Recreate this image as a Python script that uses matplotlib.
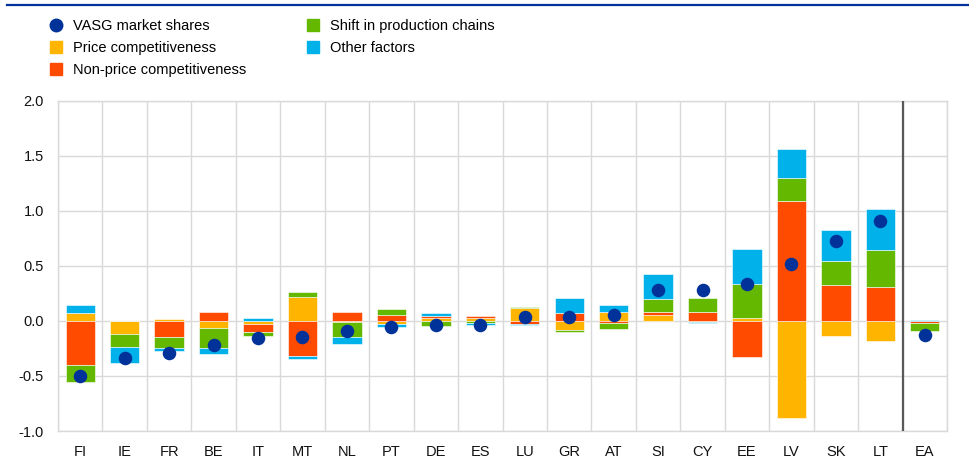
import numpy as np
import matplotlib
matplotlib.use("Agg")
import matplotlib.pyplot as plt
from matplotlib.lines import Line2D

plt.rcParams["font.family"] = ["Liberation Sans", "DejaVu Sans"]

# Data
countries = ["FI", "IE", "FR", "BE", "IT", "MT", "NL", "PT", "DE", "ES",
             "LU", "GR", "AT", "SI", "CY", "EE", "LV", "SK", "LT", "EA"]
price = [0.07, -0.12, 0.02, -0.06, -0.025, 0.22, -0.01, -0.03, 0.025, 0.03,
         0.113, -0.08, 0.085, 0.057, -0.01, 0.027, -0.878, -0.136, -0.18, -0.005]
non_price = [-0.40, 0.0, -0.15, 0.085, -0.075, -0.315, 0.083, 0.05, 0.015, 0.015,
             -0.025, 0.07, -0.02, 0.023, 0.085, -0.324, 1.093, 0.33, 0.306, -0.015]
shift = [-0.157, -0.12, -0.10, -0.185, -0.04, 0.043, -0.14, 0.054, -0.05, -0.02,
         0.012, -0.02, -0.05, 0.117, 0.125, 0.306, 0.207, 0.212, 0.336, -0.07]
other = [0.075, -0.14, -0.02, -0.055, 0.03, -0.03, -0.06, -0.025, 0.035, -0.02,
         -0.01, 0.14, 0.06, 0.23, -0.01, 0.317, 0.26, 0.288, 0.375, 0.01]
vasg = [-0.50, -0.335, -0.29, -0.215, -0.157, -0.142, -0.088, -0.054, -0.035, -0.035,
        0.033, 0.036, 0.052, 0.28, 0.285, 0.336, 0.518, 0.727, 0.908, -0.124]

series = [
    ("Price competitiveness", price, "#FFB400"),
    ("Non-price competitiveness", non_price, "#FF4B00"),
    ("Shift in production chains", shift, "#65B800"),
    ("Other factors", other, "#00B1EA"),
]
dark_blue = "#003299"

fig = plt.figure(figsize=(9.7, 4.74), dpi=100)
ax = fig.add_axes([0.0598, 0.0907, 0.9165, 0.6969])

x = np.arange(len(countries))
pos_bottom = np.zeros(len(countries))
neg_bottom = np.zeros(len(countries))
for label, vals, color in series:
    v = np.array(vals)
    bottom = np.where(v >= 0, pos_bottom, neg_bottom)
    ax.bar(x, v, 0.66, bottom=bottom, color=color, edgecolor="white",
           linewidth=0.4, zorder=3)
    pos_bottom += np.clip(v, 0, None)
    neg_bottom += np.clip(v, None, 0)

ax.scatter(x, vasg, s=95, color=dark_blue, zorder=5, linewidths=0)

# separator before euro area
ax.axvline(18.5, color="#595959", lw=1.6, zorder=4)

ax.set_xlim(-0.5, len(countries) - 0.5)
ax.set_ylim(-1.0, 2.0)
ax.set_yticks(np.arange(-1.0, 2.01, 0.5))
ax.set_yticklabels([f"{t:.1f}" for t in np.arange(-1.0, 2.01, 0.5)])
ax.set_xticks(x)
ax.set_xticklabels(countries)
ax.set_xticks(np.arange(-0.5, len(countries), 1), minor=True)
ax.grid(True, axis="y", which="major", color="#d9d9d9", lw=1.0, zorder=0)
ax.grid(True, axis="x", which="minor", color="#d9d9d9", lw=1.0, zorder=0)
ax.tick_params(axis="both", which="both", length=0, labelsize=10.5, colors="#111111")
ax.tick_params(axis="x", pad=10)
ax.tick_params(axis="y", pad=10)
for side in ax.spines:
    ax.spines[side].set_color("#d9d9d9")
    ax.spines[side].set_linewidth(1.0)

# legend
handles = [Line2D([], [], marker="o", ls="", color=dark_blue, markersize=9)]
handles += [Line2D([], [], marker="s", ls="", color=c, markersize=9) for _, _, c in series]
labels = ["VASG market shares"] + [s[0] for s in series]
fig.legend(handles, labels, ncol=2, loc="upper left", bbox_to_anchor=(0.044, 0.972),
           frameon=False, fontsize=10.5, handlelength=1.0, handletextpad=0.7,
           columnspacing=4.05, labelspacing=0.55, borderaxespad=0)

# top rule
fig.add_artist(Line2D([7 / 970, 1.0], [1 - 5 / 474, 1 - 5 / 474],
                      color=dark_blue, lw=1.6))

fig.savefig("out.png", dpi=100)
